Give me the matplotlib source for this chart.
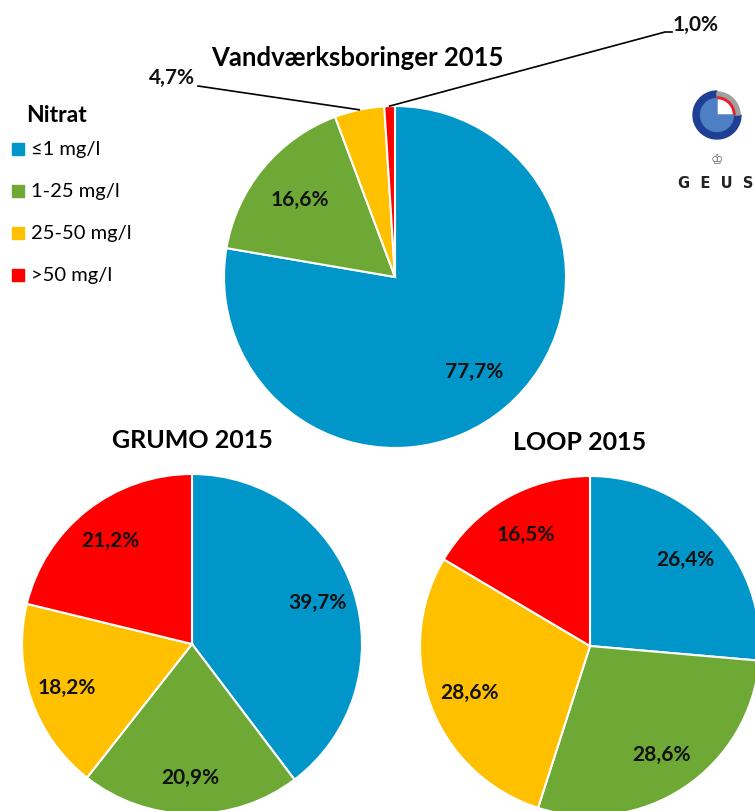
import numpy as np
import matplotlib.pyplot as plt
from matplotlib.patches import Wedge, Rectangle

categories = ["≤1 mg/l", "1-25 mg/l", "25-50 mg/l", ">50 mg/l"]
colors = ["#0096CA", "#6DA934", "#FFC000", "#FF0000"]

vand_values = [77.7, 16.6, 4.7, 1.0]
grumo_values = [39.7, 20.9, 18.2, 21.2]
loop_values = [26.4, 28.6, 28.6, 16.5]

W, H = 755, 812
FONT = "Lato"


def fmt(v):
    return f"{v:.1f}%".replace(".", ",")


def img(x, y):
    # picture coordinates (y down) -> data coordinates (y up)
    return x, H - y


def draw_pie(ax, values, center, radius, inside, pctdist=0.76):
    wedges, _ = ax.pie(values, colors=colors, startangle=90, counterclock=False,
                       center=center, radius=radius, frame=True,
                       wedgeprops=dict(edgecolor="white", linewidth=1.5))
    for w, v, show in zip(wedges, values, inside):
        if not show:
            continue
        mid = np.deg2rad((w.theta1 + w.theta2) / 2)
        x = center[0] + pctdist * radius * np.cos(mid)
        y = center[1] + pctdist * radius * np.sin(mid)
        ax.text(x, y, fmt(v), ha="center", va="center", fontsize=15,
                family=FONT, fontweight="bold", color="#111111")
    return wedges


fig = plt.figure(figsize=(W / 100, H / 100), dpi=100)
ax = fig.add_axes([0, 0, 1, 1])

# top pie
top_c, top_r = img(395, 278), 171
tw = draw_pie(ax, vand_values, top_c, top_r, [True, True, False, False], 0.72)

# leader lines for small slices
for w, v, end, text_xy, ha in [
    (tw[2], vand_values[2], [img(198, 87)], img(195, 78), "right"),
    (tw[3], vand_values[3], [img(665, 33), img(672, 33)], img(673, 25), "left"),
]:
    mid = np.deg2rad((w.theta1 + w.theta2) / 2)
    rim = (top_c[0] + top_r * np.cos(mid), top_c[1] + top_r * np.sin(mid))
    pts = [rim] + end
    ax.plot([p[0] for p in pts], [p[1] for p in pts], color="black", lw=1.2)
    ax.text(*text_xy, fmt(v), ha=ha, va="center", fontsize=15, family=FONT,
            fontweight="bold", color="#111111")

draw_pie(ax, grumo_values, img(192, 645), 170, [True] * 4, 0.78)
draw_pie(ax, loop_values, img(590, 647), 170, [True] * 4, 0.76)

# titles
ax.text(*img(357, 58), "Vandværksboringer 2015", ha="center", va="center",
        fontsize=18.5, family=FONT, fontweight="bold")
ax.text(*img(192, 441), "GRUMO 2015", ha="center", va="center",
        fontsize=18, family=FONT, fontweight="bold")
ax.text(*img(580, 443), "LOOP 2015", ha="center", va="center",
        fontsize=18, family=FONT, fontweight="bold")

# legend
ax.text(*img(26, 116), "Nitrat", ha="left", va="center", fontsize=16.5,
        family=FONT, fontweight="bold")
for i, (lab, col) in enumerate(zip(categories, colors)):
    x, y = img(12, 150 + i * 42)
    ax.add_patch(Rectangle((x, y - 6), 12, 12, color=col))
    ax.text(x + 19, y, lab, ha="left", va="center", fontsize=14.5,
            family=[FONT, "DejaVu Sans"])

# GEUS logo
lc = img(717, 116)
ax.add_patch(Wedge(lc, 24, 90, 360, width=8, color="#1E3F94"))
ax.add_patch(Wedge(lc, 23, 0, 90, width=5, color="#A0A0A0"))
ax.add_patch(Wedge(lc, 18, 0, 90, width=1.5, color="#E8202A"))
ax.add_patch(Wedge(lc, 16.5, 90, 360, color="#4D7FC4"))
ax.text(*img(717, 160), "♔", ha="center", va="center", fontsize=10,
        color="#666666", family="DejaVu Sans")
ax.text(*img(716, 184), "G  E  U  S", ha="center", va="center", fontsize=10.5,
        color="#222222", fontweight="bold", family="DejaVu Sans")

ax.set_xlim(0, W)
ax.set_ylim(0, H)
ax.set_aspect("equal")
ax.axis("off")

fig.savefig("out.png", dpi=100, facecolor="white")
